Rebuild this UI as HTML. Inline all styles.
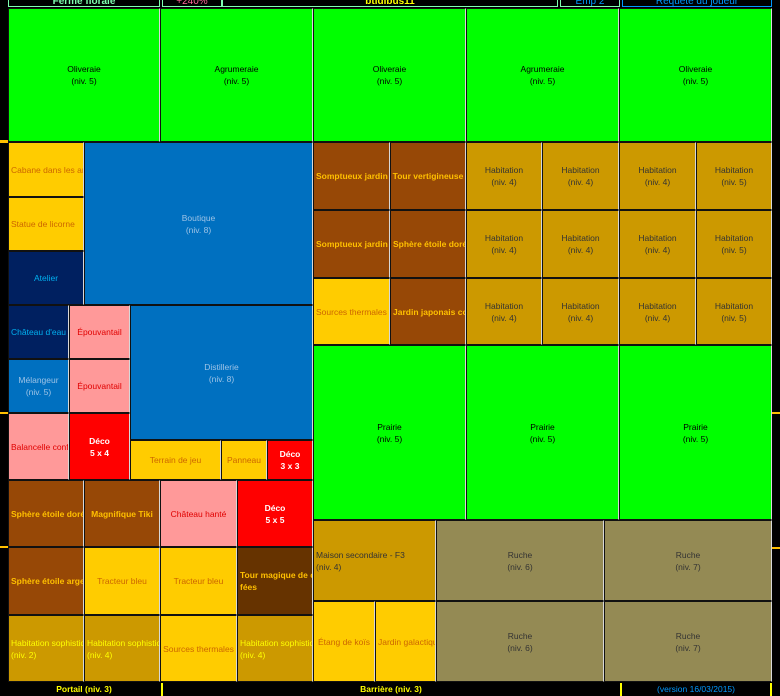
<!DOCTYPE html>
<html><head><meta charset="utf-8">
<style>
html,body{margin:0;padding:0;background:#000;}
#root{position:relative;width:780px;height:696px;background:#000;overflow:hidden;font-family:"Liberation Sans",sans-serif;}
.c{position:absolute;box-sizing:border-box;border:1px solid #111;box-shadow:inset 0 0 0 0 #000;font-size:8.5px;line-height:12px;display:flex;align-items:center;justify-content:center;text-align:center;overflow:hidden;white-space:nowrap;}
.l{justify-content:flex-start;text-align:left;padding-left:2px;}
.b{font-weight:bold;}
.hdr{position:absolute;top:0;height:7px;background:#000;border:1px solid #7fffb0;border-top:none;box-sizing:border-box;overflow:hidden;font-size:10px;line-height:4px;text-align:center;font-weight:bold;}
.ftr{position:absolute;top:683px;height:13px;background:#000;box-sizing:border-box;font-size:8.5px;font-weight:bold;line-height:13px;text-align:center;color:#ffff00;}
</style></head><body>
<div id="root">
  <div class="hdr" style="left:8px;width:152px;color:#7fffb0">Ferme florale</div>
  <div class="hdr" style="left:162px;width:60px;color:#ff6699;font-weight:normal">+240%</div>
  <div class="hdr" style="left:222px;width:336px;color:#ffff00">btidibus11</div>
  <div class="hdr" style="left:560px;width:60px;color:#0099ff;font-weight:normal">Emp 2</div>
  <div class="hdr" style="left:622px;width:150px;color:#0099ff;border-color:#0099ff;font-weight:normal">Requête du joueur</div>
  <div style="position:absolute;left:0;top:140px;width:8px;height:3px;background:#ffc000"></div>
  <div style="position:absolute;left:0;top:412px;width:8px;height:2px;background:#ffc000"></div>
  <div style="position:absolute;left:0;top:546px;width:8px;height:2px;background:#ffc000"></div>
  <div style="position:absolute;left:772px;top:412px;width:8px;height:2px;background:#ffc000"></div>
  <div style="position:absolute;left:772px;top:547px;width:8px;height:2px;background:#ffc000"></div>
  <div class="ftr" style="left:8px;width:152px">Portail (niv. 3)</div>
  <div class="ftr" style="left:161px;width:458px;border-left:2px solid #ffff00">Barrière (niv. 3)</div>
  <div class="ftr" style="left:620px;width:152px;color:#0099ff;font-weight:normal;border-left:2px solid #ffff00;border-right:2px solid #ffff00">(version 16/03/2015)</div>
</div>
<script>
var G="#00ff00",Y="#ffcc00",BL="#0070c0",NV="#002060",PK="#ff9999",RD="#ff0000",BR="#974806",DB="#663300",GD="#cc9900",RU="#948a54";
// [x1,y1,x2,y2,bg,color,text,cls,name]
var cells=[
[8,8,160,142,G,"#000","Oliveraie<br>(niv. 5)","","oliveraie"],
[160,8,313,142,G,"#000","Agrumeraie<br>(niv. 5)","","agrumeraie"],
[313,8,466,142,G,"#000","Oliveraie<br>(niv. 5)","","oliveraie"],
[466,8,619,142,G,"#000","Agrumeraie<br>(niv. 5)","","agrumeraie"],
[619,8,772,142,G,"#000","Oliveraie<br>(niv. 5)","","oliveraie"],
[8,142,84,197,Y,"#cc6600","Cabane dans les arbres","l","cabane"],
[8,197,84,251,Y,"#cc6600","Statue de licorne","l","statue-licorne"],
[8,251,84,305,NV,"#00b0f0","Atelier","","atelier"],
[84,142,313,305,BL,"#9dc3e6","Boutique<br>(niv. 8)","","boutique"],
[8,305,69,359,NV,"#00b0f0","Château d'eau","l","chateau-eau"],
[69,305,130,359,PK,"#e00000","Épouvantail","","epouvantail"],
[8,359,69,413,BL,"#9dc3e6","Mélangeur<br>(niv. 5)","","melangeur"],
[69,359,130,413,PK,"#e00000","Épouvantail","","epouvantail"],
[130,305,313,440,BL,"#9dc3e6","Distillerie<br>(niv. 8)","","distillerie"],
[8,413,69,480,PK,"#e00000","Balancelle confortable","l","balancelle"],
[69,413,130,480,RD,"#fff","Déco<br>5 x 4","b","deco-5x4"],
[130,440,221,480,Y,"#cc6600","Terrain de jeu","","terrain-de-jeu"],
[221,440,267,480,Y,"#cc6600","Panneau","","panneau"],
[267,440,313,480,RD,"#fff","Déco<br>3 x 3","b","deco-3x3"],
[8,480,84,547,BR,"#ffc000","Sphère étoile dorée","l b","sphere-doree"],
[84,480,160,547,BR,"#ffc000","Magnifique Tiki","b","tiki"],
[160,480,237,547,PK,"#e00000","Château hanté","","chateau-hante"],
[237,480,313,547,RD,"#fff","Déco<br>5 x 5","b","deco-5x5"],
[8,547,84,615,BR,"#ffc000","Sphère étoile argentée","l b","sphere-argent"],
[84,547,160,615,Y,"#cc6600","Tracteur bleu","","tracteur-bleu"],
[160,547,237,615,Y,"#cc6600","Tracteur bleu","","tracteur-bleu"],
[237,547,313,615,DB,"#ffc000","Tour magique de contes de<br>fées","l b","tour-magique"],
[8,615,84,682,GD,"#ffff00","Habitation sophistiquée<br>(niv. 2)","l","habitation-sophistiquee"],
[84,615,160,682,GD,"#ffff00","Habitation sophistiquée<br>(niv. 4)","l","habitation-sophistiquee"],
[160,615,237,682,Y,"#cc6600","Sources thermales","","sources-thermales"],
[237,615,313,682,GD,"#ffff00","Habitation sophistiquée<br>(niv. 4)","l","habitation-sophistiquee"],
[313,142,390,210,BR,"#ffc000","Somptueux jardin japonais","l b","somptueux-jardin"],
[390,142,466,210,BR,"#ffc000","Tour vertigineuse","b","tour-vertigineuse"],
[313,210,390,278,BR,"#ffc000","Somptueux jardin japonais","l b","somptueux-jardin"],
[390,210,466,278,BR,"#ffc000","Sphère étoile dorée","l b","sphere-doree"],
[313,278,390,345,Y,"#cc6600","Sources thermales","l","sources-thermales"],
[390,278,466,345,BR,"#ffc000","Jardin japonais contemporain","l b","jardin-japonais"],
[313,345,466,520,G,"#000","Prairie<br>(niv. 5)","","prairie"],
[466,345,619,520,G,"#000","Prairie<br>(niv. 5)","","prairie"],
[619,345,772,520,G,"#000","Prairie<br>(niv. 5)","","prairie"],
[313,520,436,601,GD,"#333","Maison secondaire - F3<br>(niv. 4)","l","maison-secondaire"],
[313,601,375,682,Y,"#cc6600","Étang de koïs","","etang-kois"],
[375,601,436,682,Y,"#cc6600","Jardin galactique","l","jardin-galactique"],
[436,520,604,601,RU,"#333","Ruche<br>(niv. 6)","","ruche"],
[604,520,772,601,RU,"#333","Ruche<br>(niv. 7)","","ruche"],
[436,601,604,682,RU,"#333","Ruche<br>(niv. 6)","","ruche"],
[604,601,772,682,RU,"#333","Ruche<br>(niv. 7)","","ruche"]
];
var hx=[466,542,619,696,772],hy=[142,210,278,345],hl=["4","4","4","5"];
for(var r=0;r<3;r++)for(var k=0;k<4;k++)cells.push([hx[k],hy[r],hx[k+1],hy[r+1],GD,"#333","Habitation<br>(niv. "+hl[k]+")","","habitation"]);
var root=document.getElementById('root');
cells.forEach(function(c){
  var d=document.createElement('div');
  d.className='c '+c[7];
  d.style.left=c[0]+'px';d.style.top=c[1]+'px';
  d.style.width=(c[2]-c[0])+'px';d.style.height=(c[3]-c[1])+'px';
  d.style.background=c[4];d.style.color=c[5];
  d.style.borderRightColor='#d8d8d8';d.style.borderBottomColor='#111';
  d.innerHTML='<span>'+c[6]+'</span>';
  
  
  root.appendChild(d);
});
</script>
</body></html>
